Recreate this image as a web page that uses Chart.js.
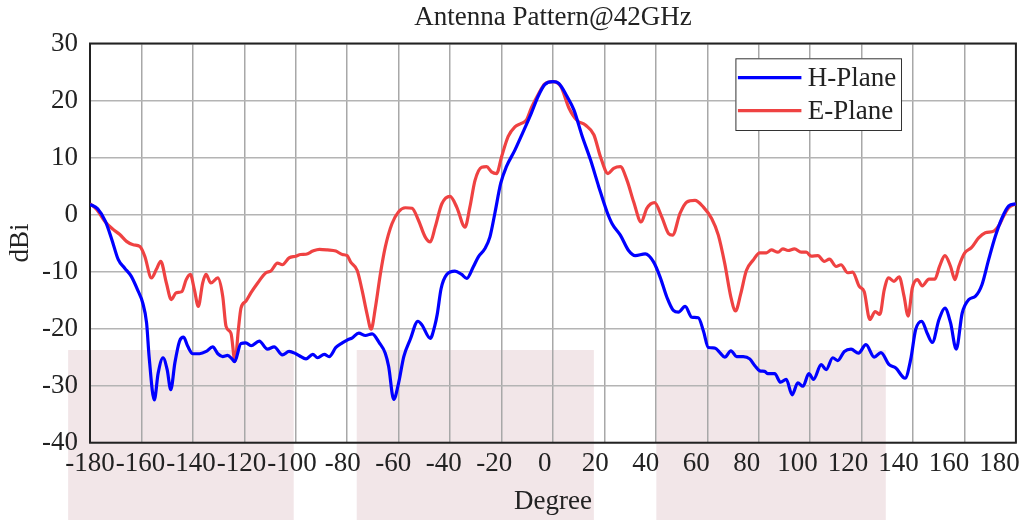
<!DOCTYPE html>
<html lang="en">
<head>
    <meta charset="UTF-8">
    <script src="https://cdn.jsdelivr.net/npm/chart.js"></script>
    <title>Antenna Pattern@42GHz</title>
    <style>
        body {
            margin: 0;
            background: #ffffff;
        }
        canvas {
            display: block;
        }
    </style>
</head>
<body>
<canvas id="myChart" width="1025" height="520"></canvas>
<script>
    // H-Plane: angle (deg) / gain (dBi)
    const hAngle = [-180, -177, -174, -171.5, -169, -166.5, -164, -161.5, -159.5, -158, -157, -155, -153.5, -151.6, -150, -148.6, -147, -145.2, -143.6, -142,
        -140, -137.4, -134.8, -132.3, -130.3, -128.4, -126.5, -124.8, -123.8, -121.3, -119.4, -117.4, -114.2, -111, -108.4, -105.2, -102.6, -100,
        -98.6, -96, -93.4, -91.5, -88.9, -87, -84.4, -81.9, -80, -78, -75.5, -72.9, -70.3, -67.5, -65.2, -63.9, -61.9, -60, -58, -55.5, -52.5, -51,
        -47.7, -46, -45, -43.5, -41.3, -38.1, -35.5, -33.5, -31, -29, -26.5, -24.5, -22.6, -20.3, -18.1, -14.8, -11.6, -8.4, -5.8, -3.2,
        0, 2.3, 5.5, 8.1, 11.4, 14.6, 17.8, 21, 23, 26.2, 29.4, 32, 35.9, 39.1, 41.7, 44.3, 46.8, 48.8, 51.4, 54, 56.5, 58.5,
        60.4, 63, 64.9, 66.8, 69.2, 71.4, 74, 76.5, 78.5, 80.4, 82.3, 83.6, 86.2, 88.5, 90.7, 93, 95.2, 97.2, 99.5,
        101.3, 104.3, 106.2, 108.8, 110.7, 113.3, 115.9, 118.8, 121.7, 124.9, 127.5, 130.7, 133.3, 136.9, 139.1,
        141, 143.4, 145.5, 147.5, 150.1, 152.4, 154.6, 156.8, 159.1, 161.7, 164.3, 166.8, 169.4, 172, 174.6, 177.2, 180];
    const hGain = [1.8, 1.0, -1.2, -4.4, -7.9, -9.4, -10.8, -13.2, -15.5, -19, -25, -32.5, -27.8, -25.1, -27.2, -30.7, -26, -22.2, -21.5, -23.1,
        -24.4, -24.4, -24.0, -23.2, -24.4, -24.9, -24.7, -25.3, -25.8, -22.6, -22.5, -23, -22.2, -23.6, -23.2, -24.6, -24, -24.4,
        -24.75, -25.3, -24.5, -25.1, -24.5, -24.9, -23.3, -22.5, -22, -21.6, -20.8, -21.2, -20.9, -22.5, -24.3, -26.6, -32.4, -29.5, -24.9, -21.9, -18.7, -19.3,
        -21.7, -19.6, -17.5, -13, -10.5, -9.9, -10.5, -11.2, -9.2, -7.4, -6, -3.9, 0.2, 5.5, 8.4, 11.3, 14.5, 17.8, 20.7, 22.8,
        23.3, 23, 20.7, 18.4, 13.7, 9.6, 4.9, 0.5, -1.6, -3.6, -6.3, -7.2, -6.9, -8.3, -11, -14.5, -16.8, -17.1, -16.1, -18, -18.1, -20.4,
        -23.3, -23.4, -24.2, -25, -23.9, -24.9, -24.9, -25.3, -26.5, -27.4, -27.5, -27.9, -27.9, -29.4, -28.9, -31.6, -29.5, -30.1, -27.9,
        -28.9, -26.3, -27.2, -25.1, -25.6, -24, -23.6, -24.3, -22.8, -25, -24.2, -26.3, -26.9, -28.7, -25.4,
        -20.2, -18.7, -20.8, -22.4, -18.4, -16.4, -19, -23.6, -17.3, -14.9, -14.3, -12.3, -7.9, -3.8, -0.6, 1.5, 1.9];

    // E-Plane
    const eAngle = [-180, -177.4, -174.2, -171, -168.4, -165.8, -163.2, -160.6, -158.7, -156.1, -154.2, -152.5, -150.3, -148.4, -146.5, -144.3, -142.6, -141,
        -139.4, -137.9, -136.2, -134.9, -133, -130.3, -128.4, -127.1, -125.2, -123.6, -122.3, -121.3, -119.4, -117.4, -114.8, -111.6, -109.7, -107.1, -105.2, -102.6, -100,
        -98.1, -96, -93.4, -90.8, -87.7, -84.4, -81.9, -80, -78.7, -76.1, -74.2, -72.3, -70.7, -69, -67.1, -65.2, -62.6, -60, -57.4, -54.8, -52.3,
        -49.7, -47.7, -45.8, -43.2, -40, -37.4, -34.2, -32.3, -30.3, -27.7, -25.8, -23.9, -21.9, -20, -17.4, -14.8, -12.3, -10.3, -8.4, -5.8, -3.2,
        0, 3, 6.2, 9.4, 12.6, 15.9, 18.5, 21.4, 23.6, 26.2, 28.8, 31.4, 34.3, 36.5, 39.5, 42.3, 44.9, 46.5, 49.4, 52, 55.2, 58.5,
        61.7, 64.3, 66.8, 69.2, 71, 73, 75.2, 77.8, 80.4, 83, 84.9, 87.5, 89.4, 91.4, 93.9, 96.5, 98.5,
        100.4, 103, 105.5, 107.5, 110.1, 112, 114.6, 116.5, 119.1, 121, 123.2, 125.3, 127.1, 128.8, 130.5, 132.6, 134.6, 136.5, 138.1, 139.7,
        141.7, 143.6, 146.2, 148.5, 150.3, 152.4, 154.6, 156.3, 157.8, 160.1, 162.7, 165.5, 168.1, 171.4, 173.3, 175.2, 177.2, 180];
    const eGain = [1.9, 0.9, -1.2, -2.6, -3.5, -4.7, -5.3, -5.6, -7.3, -11.1, -9.6, -8.2, -12, -14.9, -13.7, -13.5, -11.4, -10.5,
        -13.2, -16.1, -12, -10.5, -12, -11.1, -14.3, -19.6, -20.8, -25.7, -20.1, -16.4, -15.2, -13.7, -12, -10.2, -9.9, -8.5, -8.8, -7.6, -7.3,
        -7.0, -6.95, -6.4, -6.1, -6.2, -6.4, -7.0, -7.2, -8.3, -9.8, -13.3, -17.4, -20.1, -16.2, -10.4, -5.7, -1.6, 0.5, 1.2, 1.1, -1,
        -3.9, -4.8, -2.2, 1.9, 3.2, 1.3, -2.2, 1.3, 6, 8.3, 8.4, 7.5, 7.2, 10.1, 13.7, 15.4, 16, 16.6, 18.7, 21, 22.9,
        23.3, 22.5, 18.7, 16.5, 15.7, 14, 10.1, 7.2, 8.1, 8.4, 6, 2.2, -1.3, 1.1, 2.1, -0.4, -3.3, -3.6, 0.2, 2.2, 2.5, 1.3,
        -0.7, -3.6, -8.6, -14.5, -16.9, -13.9, -9.8, -8, -6.7, -6.7, -6.2, -6.6, -6, -6.3, -6, -6.6, -6.6,
        -7.3, -7.2, -8.2, -7.8, -9.1, -8.8, -10.2, -10.1, -12.6, -13.5, -18.4, -17, -17.5, -13.2, -11.1, -11.7, -10.9, -14.3, -17.8, -12.9,
        -11.4, -12.5, -11.3, -11.3, -9.1, -7.2, -9.1, -11.4, -9.1, -6.7, -5.8, -4.1, -3.2, -2.9, -2, -0.3, 1.2, 1.9];

    // shaded bands behind the lower part of the plot (deg from / to, top in dBi)
    const shadeBands = [[-188.5, -100.8], [-76.3, 15.9], [40.2, 129.4]];
    const shadeTop = -23.75;

    const serif = '"Liberation Serif", "Times New Roman", serif';
    Chart.defaults.font.family = serif;
    Chart.defaults.font.size = 27;
    Chart.defaults.color = '#222';

    function toPoints(xs, ys) {
        return xs.map((x, i) => ({x: x, y: ys[i]}));
    }

    const bandsPlugin = {
        id: 'bands',
        beforeDraw(chart) {
            const ctx = chart.ctx;
            const xs = chart.scales.x, ys = chart.scales.y;
            ctx.save();
            ctx.fillStyle = '#ffffff';
            ctx.fillRect(0, 0, chart.width, chart.height);
            ctx.fillStyle = '#f2e6e8';
            const top = ys.getPixelForValue(shadeTop);
            shadeBands.forEach(b => {
                const x1 = xs.getPixelForValue(b[0]);
                const x2 = xs.getPixelForValue(b[1]);
                ctx.fillRect(x1, top, x2 - x1, chart.height - top);
            });
            ctx.restore();
        }
    };

    const framePlugin = {
        id: 'frame',
        beforeDatasetsDraw(chart) {
            const {ctx, chartArea: a} = chart;
            ctx.save();
            ctx.strokeStyle = '#222';
            ctx.lineWidth = 2;
            ctx.strokeRect(a.left, a.top, a.right - a.left, a.bottom - a.top);
            ctx.restore();
        }
    };

    // legend box inside the plot, top right
    const boxLegend = {
        id: 'boxLegend',
        afterDraw(chart) {
            const {ctx, chartArea: a} = chart;
            const left = a.right - 280.5, top = a.top + 14.8;
            const w = 165.6, h = 71.7;
            ctx.save();
            ctx.fillStyle = '#ffffff';
            ctx.fillRect(left, top, w, h);
            ctx.strokeStyle = '#333';
            ctx.lineWidth = 1;
            ctx.strokeRect(left + 0.5, top + 0.5, w, h);
            ctx.font = '27px ' + serif;
            ctx.textBaseline = 'middle';
            ctx.textAlign = 'left';
            chart.data.datasets.forEach((ds, i) => {
                const y = top + 19.4 + i * 33;
                ctx.strokeStyle = ds.borderColor;
                ctx.lineWidth = 3.2;
                ctx.beginPath();
                ctx.moveTo(left + 2.5, y);
                ctx.lineTo(left + 66, y);
                ctx.stroke();
                ctx.fillStyle = '#222';
                ctx.fillText(ds.label, left + 72.3, y + 1);
            });
            ctx.restore();
        }
    };

    new Chart(document.getElementById('myChart'), {
        type: 'line',
        data: {
            datasets: [
                {
                    label: 'H-Plane',
                    data: toPoints(hAngle, hGain),
                    borderColor: '#0000ff',
                    borderWidth: 3.2,
                    pointRadius: 0,
                    fill: false,
                    cubicInterpolationMode: 'monotone'
                },
                {
                    label: 'E-Plane',
                    data: toPoints(eAngle, eGain),
                    borderColor: '#ef4242',
                    borderWidth: 3.2,
                    pointRadius: 0,
                    fill: false,
                    cubicInterpolationMode: 'monotone'
                }
            ]
        },
        options: {
            responsive: false,
            devicePixelRatio: 1,
            animation: false,
            layout: {
                padding: {left: 4, right: 7, top: 0, bottom: 0}
            },
            plugins: {
                legend: {display: false},
                tooltip: {enabled: false},
                title: {
                    display: true,
                    text: 'Antenna Pattern@42GHz',
                    fullSize: false,
                    color: '#222',
                    font: {size: 27, weight: 'normal'},
                    padding: {top: 1.3, bottom: 9.8}
                }
            },
            scales: {
                x: {
                    type: 'linear',
                    position: 'bottom',
                    weight: 0,
                    min: -180,
                    max: 180,
                    ticks: {display: false, stepSize: 20},
                    grid: {color: '#a8a8a8', lineWidth: 1.5, drawTicks: false},
                    border: {display: false},
                    afterFit(scale) { scale.height = 0; }
                },
                // tick labels as laid out in the original (slightly tighter than the grid)
                xl: {
                    type: 'linear',
                    position: 'bottom',
                    weight: 1,
                    min: -180,
                    max: 186.5,
                    ticks: {stepSize: 20, includeBounds: false, autoSkip: false, maxRotation: 0, minRotation: 0, padding: 5.1},
                    grid: {display: false, drawTicks: false},
                    border: {display: false},
                    title: {display: true, text: 'Degree', padding: {top: 6, bottom: 1.8}},
                    afterFit(scale) { scale.height = 77.3; }
                },
                y: {
                    min: -40,
                    max: 30,
                    ticks: {stepSize: 10, padding: 12},
                    grid: {color: '#b4b4b4', lineWidth: 1.5, drawTicks: false},
                    border: {display: false},
                    title: {display: true, text: 'dBi', padding: {top: 1, bottom: 4}},
                    afterFit(scale) { scale.width = 86; }
                }
            }
        },
        plugins: [bandsPlugin, framePlugin, boxLegend]
    });
</script>
</body>
</html>
